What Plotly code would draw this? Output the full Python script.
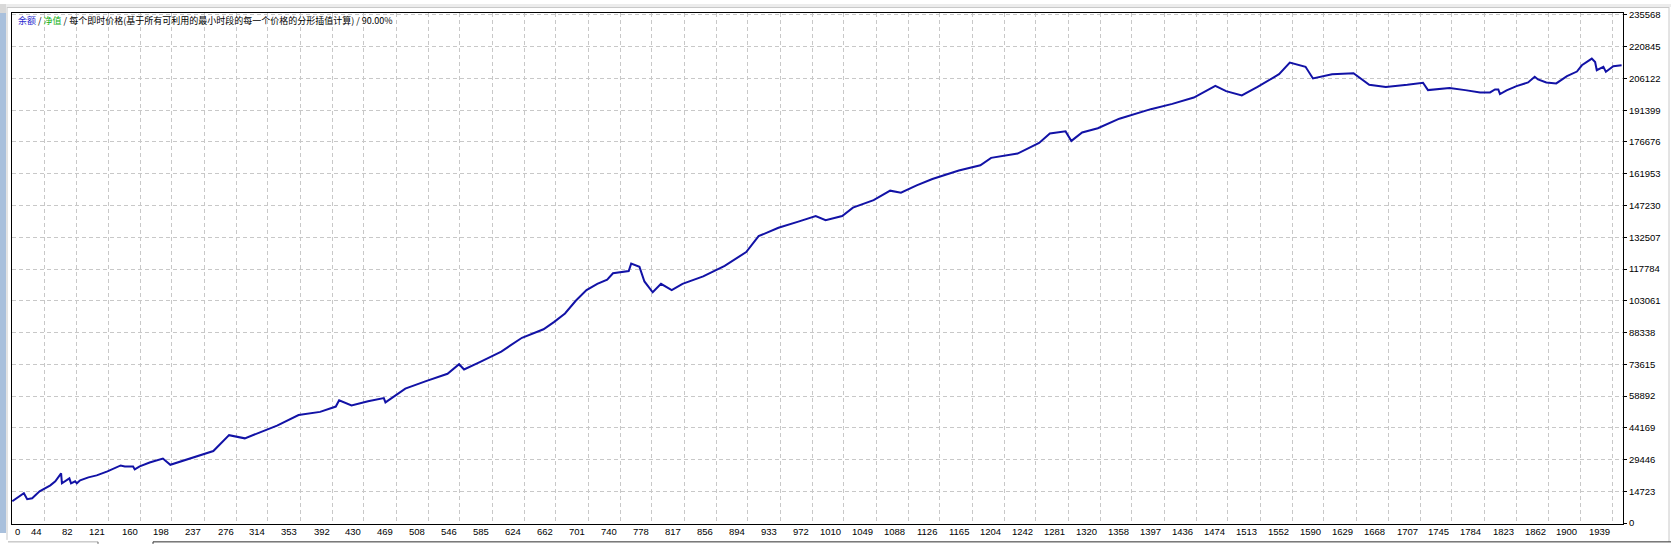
import plotly.graph_objects as go

# ---------------- data ----------------
trade_index = [5, 12, 19, 23, 29, 38, 51, 57, 64, 65, 70, 74, 76, 81, 83, 87, 97, 107, 120, 136, 141, 151, 153, 159, 171, 183,
               187, 196, 248, 267, 286, 325, 351, 377, 396, 400, 415, 435, 454, 456, 480, 505, 531, 545, 551, 570, 596, 621,
               647, 660, 673, 686, 699, 712, 724, 731, 750, 753, 763, 769, 779, 789, 802, 815, 840, 866, 892, 907, 931, 956,
               976, 988, 1008, 1021, 1046, 1066, 1079, 1098, 1117, 1149, 1175, 1188, 1220, 1246, 1259, 1278, 1285, 1298,
               1317, 1343, 1381, 1407, 1433, 1459, 1472, 1491, 1510, 1536, 1549, 1568, 1577, 1600, 1626, 1645, 1665, 1691,
               1710, 1716, 1742, 1761, 1779, 1791, 1797, 1801, 1803, 1811, 1823, 1837, 1845, 1849, 1859, 1871, 1884, 1896,
               1902, 1914, 1918, 1920, 1928, 1931, 1940, 1950]
balance = [10120, 11960, 13800, 11040, 11500, 14720, 17480, 19320, 23000, 18400, 19780, 20700, 18400, 19320, 18400, 19780,
           21160, 22080, 23930, 26690, 26230, 26230, 24850, 26230, 28070, 29450,
           29900, 27000, 33370, 40740, 39260, 45150, 50060, 51530, 53990, 56930, 54480, 56440, 57910, 55950, 62330, 65770,
           69200, 73620, 71170, 74600, 79510, 85890, 89820, 93250, 97180, 103070, 107980, 110920, 112880, 115830, 116810,
           120250, 118770, 112000, 106990, 110900, 107980, 110920, 114360, 119260, 125640, 133010, 136930, 139880,
           142330, 140370, 142330, 146260, 149690, 154110, 153130, 156570, 159510, 163440, 165890, 169330, 171290,
           176200, 180610, 181600, 177180, 181100, 183070, 187490, 191900, 194360, 197300, 202700, 200240, 198280,
           202210, 208100, 213500, 211530, 206140, 208100, 208590, 203190, 202210, 203190, 204170, 200730, 201710,
           200730, 199680, 199680, 201060, 201060, 198900, 200600, 202580, 204280, 206900, 205660, 204280, 203820,
           207180, 209350, 212250, 215330, 213800, 209950, 211510, 209200, 211790, 212250]

x_tick_labels = [0, 44, 82, 121, 160, 198, 237, 276, 314, 353, 392, 430, 469, 508, 546, 585, 624, 662, 701, 740, 778, 817,
                 856, 894, 933, 972, 1010, 1049, 1088, 1126, 1165, 1204, 1242, 1281, 1320, 1358, 1397, 1436, 1474, 1513,
                 1552, 1590, 1629, 1668, 1707, 1745, 1784, 1823, 1862, 1900, 1939]
y_tick_values = [0, 14723, 29446, 44169, 58892, 73615, 88338, 103061, 117784, 132507, 147230, 161953, 176676, 191399,
                 206122, 220845, 235568]

title_parts = ["余额", "净值", "每个即时价格(基于所有可利用的最小时段的每一个价格的分形插值计算)", "90.00%"]

# ---------------- figure ----------------
W, H = 1671, 544
L, R, T, B = 12, 48, 9, 20
PW, PH = W - L - R, H - T - B

x_start = 4.65
x_per_px = 38.675 / 32.0
x_end = x_start + PW * x_per_px
y_per_px = 14723 / 32.0
y_lo = -1 * y_per_px
y_hi = 235568 + 2 * y_per_px

def px_x(p):
    return (p - L) / PW

def px_y(p):
    return (H - B - p) / PH

fig = go.Figure()
fig.add_trace(go.Scatter(x=trade_index, y=balance, mode="lines",
                         line=dict(color="#1212a6", width=2), hoverinfo="skip", showlegend=False))

LABEL_FONT = dict(family="Liberation Sans, Arial", size=9.5, color="#000000")

fig.update_layout(
    width=W, height=H,
    margin=dict(l=L, r=R, t=T, b=B, pad=0),
    paper_bgcolor="#ffffff", plot_bgcolor="#ffffff",
    showlegend=False,
    xaxis=dict(range=[x_start, x_end], tickmode="array", tickvals=x_tick_labels[1:],
               showticklabels=False, ticks="", showgrid=True, gridcolor="#c8c8c8", griddash="4px,3px",
               gridwidth=1, zeroline=False, showline=True, linecolor="#000000", linewidth=1, mirror=True),
    yaxis=dict(range=[y_lo, y_hi], side="right", tickmode="array", tickvals=y_tick_values,
               ticktext=[str(v) for v in y_tick_values], ticks="outside", ticklen=3, tickcolor="#000000",
               tickfont=LABEL_FONT, showgrid=True, gridcolor="#c8c8c8", griddash="4px,3px", gridwidth=1,
               zeroline=False, showline=True, linecolor="#000000", linewidth=1, mirror=True),
)

annotations = []
# x-axis labels: right-aligned to their grid lines
for i, v in enumerate(x_tick_labels):
    if i == 0:
        annotations.append(dict(text=str(v), xref="paper", x=0, xanchor="left", xshift=1,
                                yref="paper", y=px_y(532), yanchor="middle", showarrow=False, font=LABEL_FONT))
    else:
        annotations.append(dict(text=str(v), xref="x", x=v, xanchor="right", xshift=-1,
                                yref="paper", y=px_y(532), yanchor="middle", showarrow=False, font=LABEL_FONT))

title_text = ('<span style="color:#2a2ad0">%s</span> / <span style="color:#10b010">%s</span> / %s / %s'
              % tuple(title_parts))
annotations.append(dict(text=title_text, xref="paper", x=px_x(16), xanchor="left",
                        yref="paper", y=px_y(17), yanchor="middle", showarrow=False,
                        font=dict(family="Noto Sans CJK SC", size=9, color="#000000")))
fig.update_layout(annotations=annotations)

# window chrome around the chart
shapes = [
    dict(type="rect", xref="paper", yref="paper", x0=px_x(0), x1=px_x(W), y0=px_y(0), y1=px_y(3),
         fillcolor="#ececec", line=dict(width=0), layer="below"),
    dict(type="rect", xref="paper", yref="paper", x0=px_x(0), x1=px_x(6), y0=px_y(9), y1=px_y(533),
         fillcolor="#a9c0dc", line=dict(width=0), layer="below"),
    dict(type="rect", xref="paper", yref="paper", x0=px_x(0), x1=px_x(6), y0=px_y(0), y1=px_y(9),
         fillcolor="#d8d8d8", line=dict(width=0), layer="below"),
    dict(type="line", xref="paper", yref="paper", x0=px_x(7), x1=px_x(7), y0=px_y(3), y1=px_y(540),
         line=dict(color="#c8c8c8", width=1)),
    dict(type="line", xref="paper", yref="paper", x0=px_x(7), x1=px_x(1669), y0=px_y(3.5), y1=px_y(3.5),
         line=dict(color="#c8c8c8", width=1)),
    dict(type="line", xref="paper", yref="paper", x0=px_x(1669), x1=px_x(1669), y0=px_y(3), y1=px_y(542),
         line=dict(color="#c8c8c8", width=1)),
    dict(type="line", xref="paper", yref="paper", x0=px_x(8), x1=px_x(98), y0=px_y(542), y1=px_y(542),
         line=dict(color="#b0b0b0", width=1)),
    dict(type="line", xref="paper", yref="paper", x0=px_x(98), x1=px_x(98), y0=px_y(542), y1=px_y(544),
         line=dict(color="#606060", width=1)),
    dict(type="line", xref="paper", yref="paper", x0=px_x(153), x1=px_x(1671), y0=px_y(542), y1=px_y(542),
         line=dict(color="#303030", width=1)),
    dict(type="line", xref="paper", yref="paper", x0=px_x(153), x1=px_x(153), y0=px_y(542), y1=px_y(544),
         line=dict(color="#303030", width=1)),
]
fig.update_layout(shapes=shapes)

fig.write_html("out.html", config={"displayModeBar": False, "staticPlot": True},
               post_script="document.body.style.margin='0';document.body.style.overflow='hidden';")
